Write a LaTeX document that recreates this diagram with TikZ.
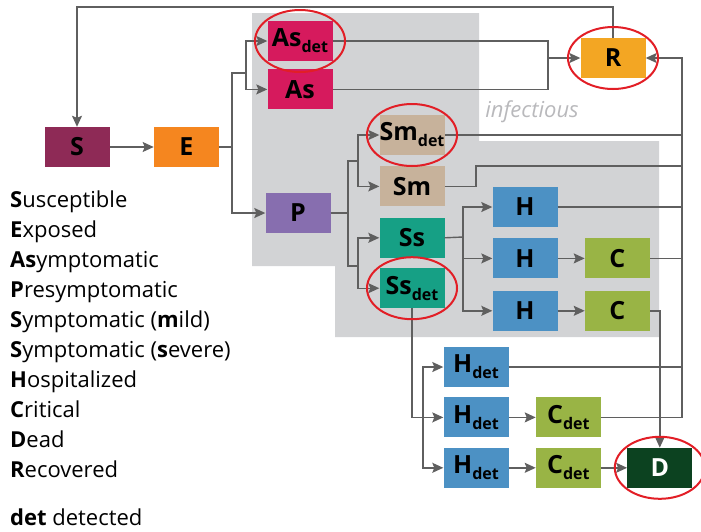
\documentclass[tikz,border=0pt]{standalone}
\usepackage{fontspec}
\setmainfont{Open Sans}
\usetikzlibrary{positioning}
\usetikzlibrary{calc}
\usetikzlibrary{arrows.meta}

\definecolor{sCol}{RGB}{142,42,86}
\definecolor{eCol}{RGB}{245,134,31}
\definecolor{asCol}{RGB}{214,26,93}
\definecolor{pCol}{RGB}{135,110,175}
\definecolor{smCol}{RGB}{199,178,155}
\definecolor{ssCol}{RGB}{22,160,133}
\definecolor{hCol}{RGB}{76,145,196}
\definecolor{cCol}{RGB}{153,180,69}
\definecolor{rCol}{RGB}{243,166,35}
\definecolor{dCol}{RGB}{12,66,32}
\definecolor{bgGray}{RGB}{210,211,213}
\definecolor{lineGray}{RGB}{95,95,95}
\definecolor{infGray}{RGB}{185,185,188}
\definecolor{ringRed}{RGB}{226,30,38}

\newcommand{\detsub}{\raisebox{-6pt}{\fontsize{16}{16}\selectfont det}}

\begin{document}
\begin{tikzpicture}[x=1pt, y=-1pt, >={Stealth[length=11pt,width=10pt,inset=2pt]},
    box/.style={minimum width=65pt, minimum height=40pt, inner sep=0pt, font=\bfseries\fontsize{25}{25}\selectfont},
    flow/.style={draw=lineGray, line width=1.4pt},
    ring/.style={draw=ringRed, line width=2pt},
    legend/.style={anchor=base west, inner sep=0pt, font=\fontsize{22}{22}\selectfont}]
\useasboundingbox (0,0) rectangle (701,531);
\fill[bgGray] (252,13) -- (479,13) -- (479,141) -- (659,141) -- (659,337) -- (335,337) -- (335,266) -- (252,266) -- cycle;
\node[font=\itshape\fontsize{22}{22}\selectfont, text=infGray] (inf) at (532,112) {infectious};

\path
    node[box, fill=sCol] (S) at (77,147) {S}
    node[box, fill=eCol, right=44pt of S] (E) {E}
    node[box, fill=asCol] (Asd) at (300,41) {As\detsub}
    node[box, fill=asCol, below=8pt of Asd] (As) {As}
    node[box, fill=pCol] (P) at (298,213) {P}
    node[box, fill=smCol] (Smd) at (412,135) {Sm\detsub}
    node[box, fill=smCol, below=11pt of Smd] (Sm) {Sm}
    node[box, fill=ssCol, below=11pt of Sm] (Ss) {Ss}
    node[box, fill=ssCol, below=10pt of Ss] (Ssd) {Ss\detsub}
    node[box, fill=hCol] (H1) at (525,207) {H}
    node[box, fill=hCol, below=11pt of H1] (H2) {H}
    node[box, fill=hCol, below=12pt of H2] (H3) {H}
    node[box, fill=cCol, right=27pt of H2] (C1) {C}
    node[box, fill=cCol, right=27pt of H3] (C2) {C}
    node[box, fill=rCol] (R) at (613,58) {R}
    node[box, fill=hCol] (Hd1) at (476,367) {H\detsub}
    node[box, fill=hCol, below=10pt of Hd1] (Hd2) {H\detsub}
    node[box, fill=hCol, below=10pt of Hd2] (Hd3) {H\detsub}
    node[box, fill=cCol, right=27pt of Hd2] (Cd2) {C\detsub}
    node[box, fill=cCol, right=27pt of Hd3] (Cd3) {C\detsub}
    node[box, fill=dCol, text=white, right=26pt of Cd3] (D) {D};

% junctions
\coordinate (ej) at (232,73);
\coordinate (aj) at (246,73);
\coordinate (rj) at (548,58);
\coordinate (loop) at (77,7);
\coordinate (pj1) at (348,161);
\coordinate (pj2) at (358,161);
\coordinate (pj3) at (348,266);
\coordinate (pj4) at (358,266);
\coordinate (smk) at (476,166);
\coordinate (sj) at (463,237);
\coordinate (hj) at (423,417);
\coordinate (bus) at (682,58);

\draw[flow, ->] (S) -- (E);
\draw[flow] (E.east) -| (ej) -- (aj);
\draw[flow, ->] (aj) |- (Asd.west);
\draw[flow, ->] (aj) |- (As.west);
\draw[flow, ->] (ej) |- (P.west);
\draw[flow] (Asd.east) -| (rj);
\draw[flow] (As.east) -| (rj);
\draw[flow, ->] (rj) -- (R.west);
\draw[flow, ->] (R.north) |- (loop) -- (S.north);

\draw[flow] (P.east) -| (pj1) -- (pj2);
\draw[flow] (P.east) -| (pj3) -- (pj4);
\draw[flow, ->] (pj2) |- (Smd.west);
\draw[flow, ->] (pj2) |- (Sm.west);
\draw[flow, ->] (pj4) |- (Ss.west);
\draw[flow, ->] (pj4) |- (Ssd.west);

\draw[flow] (Ss.east) -- (sj);
\draw[flow, ->] (sj) |- (H1.west);
\draw[flow, ->] (sj) |- (H2.west);
\draw[flow, ->] (sj) |- (H3.west);
\draw[flow, ->] (H2) -- (C1);
\draw[flow, ->] (H3) -- (C2);
\draw[flow, ->] (C2.east) -| (D.north);

\draw[flow, ->] (Ssd.south) |- (Hd2.west);
\draw[flow, ->] (hj) |- (Hd1.west);
\draw[flow, ->] (hj) |- (Hd3.west);
\draw[flow, ->] (Hd2) -- (Cd2);
\draw[flow, ->] (Hd3) -- (Cd3);
\draw[flow, ->] (Cd3) -- (D);

\draw[flow, ->] (Cd2.east) -| (bus) -- (R.east);
\draw[flow] (Smd.east) -- (Smd.east -| bus);
\draw[flow] (Sm.east) -| (smk) -- (smk -| bus);
\draw[flow] (H1.east) -- (H1.east -| bus);
\draw[flow] (C1.east) -- (C1.east -| bus);
\draw[flow] (Hd1.east) -- (Hd1.east -| bus);

\foreach \n in {Asd, R, Smd, Ssd, D}
    \draw[ring] (\n) ellipse (45 and 31);

\foreach \txt [count=\i from 0] in {{\textbf{S}usceptible}, {\textbf{E}xposed}, {\textbf{As}ymptomatic},
    {\textbf{P}resymptomatic}, {\textbf{S}ymptomatic (\textbf{m}ild)}, {\textbf{S}ymptomatic (\textbf{s}evere)},
    {\textbf{H}ospitalized}, {\textbf{C}ritical}, {\textbf{D}ead}, {\textbf{R}ecovered}}
    \node[legend] (lg\i) at (10,{207+30*\i}) {\txt};
\node[legend] (lgdet) at (10,525) {\textbf{det} detected};
\end{tikzpicture}
\end{document}
